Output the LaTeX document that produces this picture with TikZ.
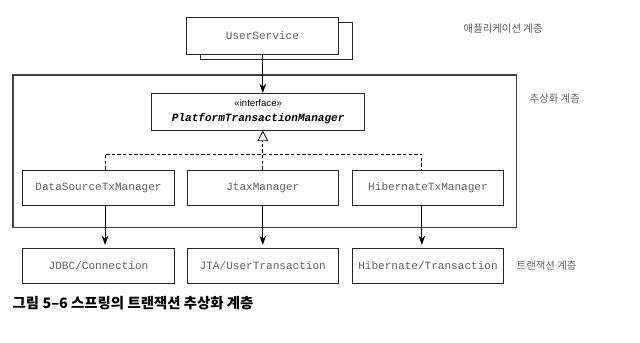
\documentclass[tikz,border=0pt]{standalone}
\usepackage{fontspec}
\setmainfont{Liberation Sans}
\setmonofont{Liberation Mono}
\newfontfamily\hangul{Noto Sans CJK KR}
\usetikzlibrary{arrows.meta,shadows}
\definecolor{txtgray}{RGB}{95,95,95}
\begin{document}
\begin{tikzpicture}[x=0.75pt,y=-0.75pt,
    cls/.style={draw=black!85,fill=white,line width=0.6pt,minimum width=113.6pt,
        minimum height=26.6pt,inner sep=0pt,font=\ttfamily\fontsize{8.3}{10}\selectfont,
        text=txtgray},
    layer/.style={anchor=west,font=\hangul\fontsize{7.8}{9}\selectfont,text=txtgray},
    uses/.style={-{Stealth[length=7pt,width=5pt]},line width=0.8pt},
    impl/.style={line width=0.6pt,dash pattern=on 2.6pt off 1.6pt}]
\useasboundingbox (0,0) rectangle (640,343);

% application layer
\node[cls,minimum height=27.75pt,
    copy shadow={shadow xshift=10.5pt,shadow yshift=-3.75pt}] (usr) at (262.4,35.5) {UserService};

% abstraction layer
\draw[line width=1.4pt,black!75] (13.3,75) rectangle (516.5,227.5);
\node[cls,minimum width=160pt,minimum height=27.4pt,text=black,align=center] (itf) at (258.2,111.75)
    {{\rmfamily\fontsize{7.2}{8}\selectfont «interface»}\\[1.5pt]\textbf{\textit{PlatformTransactionManager}}};
\node[cls] (ds) at (98.5,187.75) {DataSourceTxManager};
\node[cls] (jta) at (262.8,187.75) {JtaxManager};
\node[cls] (hb) at (428,187.75) {HibernateTxManager};

% transaction layer
\node[cls] (jdbc) at (98.5,265.75) {JDBC/Connection};
\node[cls] (ut) at (262.8,265.75) {JTA/UserTransaction};
\node[cls] (htx) at (428,265.75) {Hibernate/Transaction};

\coordinate (join) at (262.8,154);

\draw[uses] (usr.south -| join) -- (itf.north -| join);
\draw[impl] ([xshift=4.9pt]ds.north) |- (join) -| ([xshift=-4.6pt]hb.north);
\draw[impl,-{Triangle[open,length=8pt,width=8pt]}] (jta.north) -- (itf.south -| join);

\draw[uses,shorten >=2pt] ([xshift=4.9pt]ds.south) -- ([xshift=4.9pt]jdbc.north);
\draw[uses,shorten >=2pt] (jta.south) -- (ut.north);
\draw[uses,shorten >=2pt] ([xshift=-4.6pt]hb.south) -- ([xshift=-4.6pt]htx.north);

\node[layer] (lapp) at (459,29) {애플리케이션 계층};
\node[layer] (labs) at (525,99) {추상화 계층};
\node[layer] (ltx) at (512,266) {트랜잭션 계층};

\node[anchor=west,font=\hangul\bfseries\fontsize{10.8}{12}\selectfont] (cap) at (8,303)
    {그림 5–6 스프링의 트랜잭션 추상화 계층};
\end{tikzpicture}
\end{document}
